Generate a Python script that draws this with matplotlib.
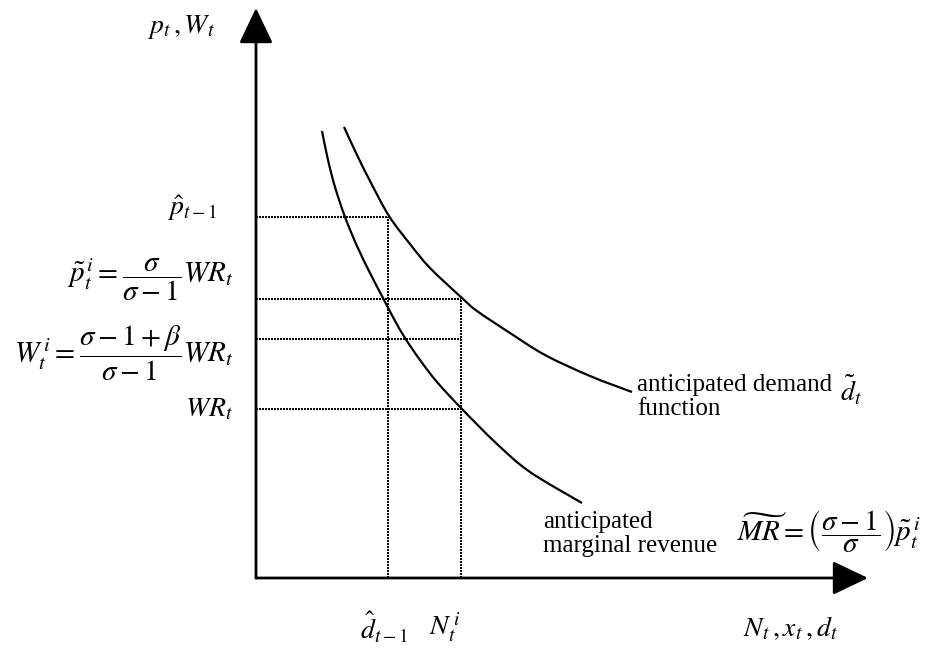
import matplotlib
matplotlib.use("Agg")
import matplotlib.pyplot as plt
from matplotlib.path import Path
from matplotlib.patches import PathPatch

# Diagram units are chosen so one unit is one pixel; origin at the axes corner.
plt.rcParams["font.family"] = ["Liberation Serif", "DejaVu Serif"]
plt.rcParams["mathtext.fontset"] = "stix"

# price / wage levels on the vertical axis
p_hat = 361      # \hat p_{t-1}
p_tilde = 279    # \tilde p_t^i
w_i = 239        # W_t^i
wr = 169         # WR_t
# quantity levels on the horizontal axis
d_hat = 132      # \hat d_{t-1}
n_i = 205        # N_t^i

# anticipated demand curve
demand_x = [88, 101, 114, 133, 154, 174, 206, 221, 254, 289, 334, 376]
demand_y = [451, 423, 397, 362, 334, 310, 280, 267, 245, 223, 202, 186]

# anticipated marginal revenue curve
mr_x = [66, 72, 79, 89, 101, 114, 127, 138, 149, 164, 181, 205, 241, 274, 326]
mr_y = [447, 418, 391, 361, 332, 305, 280, 259, 240, 218, 196, 170, 134, 106, 75]

x_tip = 612
y_tip = 570


def smooth_path(xs, ys):
    # cubic bezier through the given points (catmull-rom tangents)
    pts = list(zip(xs, ys))
    verts = [pts[0]]
    codes = [Path.MOVETO]
    for i in range(len(pts) - 1):
        p0 = pts[max(i - 1, 0)]
        p1 = pts[i]
        p2 = pts[i + 1]
        p3 = pts[min(i + 2, len(pts) - 1)]
        c1 = (p1[0] + (p2[0] - p0[0]) / 6, p1[1] + (p2[1] - p0[1]) / 6)
        c2 = (p2[0] - (p3[0] - p1[0]) / 6, p2[1] - (p3[1] - p1[1]) / 6)
        verts += [c1, c2, p2]
        codes += [Path.CURVE4] * 3
    return Path(verts, codes)


fig = plt.figure(figsize=(9.26, 6.56), dpi=100)
ax = fig.add_axes([0, 0, 1, 1])
ax.set_xlim(-256, 670)
ax.set_ylim(-78, 578)
ax.axis("off")

# axes with arrow heads
arrow = dict(arrowstyle="-|>,head_length=22,head_width=10.5", mutation_scale=1,
             lw=2, color="black", shrinkA=0, shrinkB=0)
ax.annotate("", xy=(x_tip, 0), xytext=(0, 0), arrowprops=arrow)
ax.annotate("", xy=(0, y_tip), xytext=(0, 0), arrowprops=arrow)

# curves
for xs, ys in [(demand_x, demand_y), (mr_x, mr_y)]:
    ax.add_patch(PathPatch(smooth_path(xs, ys), facecolor="none",
                           edgecolor="black", lw=1.6, capstyle="butt"))

# dotted guides
dot = dict(color="black", lw=1.3, linestyle=(0, (0.8, 0.85)), antialiased=False)
ax.plot([0, d_hat], [p_hat, p_hat], **dot)
ax.plot([0, n_i], [p_tilde, p_tilde], **dot)
ax.plot([0, n_i], [w_i, w_i], **dot)
ax.plot([0, n_i], [wr, wr], **dot)
ax.plot([d_hat, d_hat], [0, p_hat], **dot)
ax.plot([n_i, n_i], [0, p_tilde], **dot)

# vertical axis labels
ms = 21
ax.text(-41, 551, r"$p_t\,,W_t$", ha="right", va="center", fontsize=20)
ax.text(-39, 370, r"$\hat{p}_{t-1}$", ha="right", va="center", fontsize=20)
ax.text(-23, 298, r"$\tilde{p}_t^{\,i}=\dfrac{\sigma}{\sigma-1}WR_t$",
        ha="right", va="center", fontsize=ms)
ax.text(-23, 225, r"$W_t^{\,i}=\dfrac{\sigma-1+\beta}{\sigma-1}WR_t$",
        ha="right", va="center", fontsize=ms)
ax.text(-23, 168, r"$WR_t$", ha="right", va="center", fontsize=20)

# horizontal axis labels
ax.text(d_hat - 4, -50, r"$\hat{d}_{t-1}$", ha="center", va="center", fontsize=20)
ax.text(n_i - 16, -50, r"$N_t^{\,i}$", ha="center", va="center", fontsize=20)
ax.text(534, -50, r"$N_t\,,x_t\,,d_t$", ha="center", va="center", fontsize=20)

# curve labels
ax.text(381, 181, "anticipated demand\nfunction", ha="left", va="center",
        fontsize=18, linespacing=1.12)
ax.text(595, 188, r"$\tilde{d}_t$", ha="center", va="center", fontsize=20)
ax.text(287, 44, "anticipated\nmarginal revenue", ha="left", va="center",
        fontsize=18, linespacing=1.12)
ax.text(481, 46, r"$\widetilde{MR}=\left(\dfrac{\sigma-1}{\sigma}\right)\tilde{p}_t^{\,i}$",
        ha="left", va="center", fontsize=ms)

fig.savefig("out.png", dpi=100, facecolor="white")
